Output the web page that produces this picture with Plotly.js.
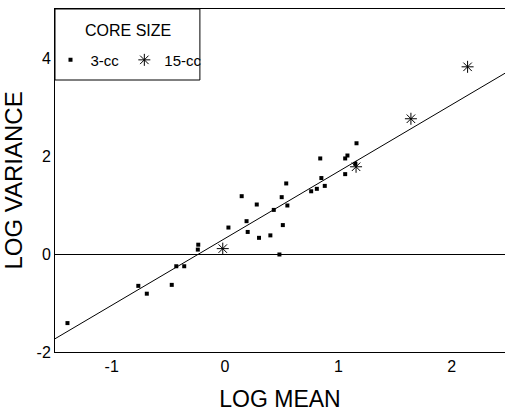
<!DOCTYPE html>
<html>
<head>
<meta charset="utf-8">
<script src="https://cdn.plot.ly/plotly-3.0.1.min.js"></script>
<style>
html,body{margin:0;padding:0;background:#fff;}
#chart{width:505px;height:412px;}
</style>
</head>
<body>
<div id="chart"></div>
<script>
// 3-cc cores: log mean, log variance
const small_x = [-1.39, -0.765, -0.69, -0.47, -0.43, -0.36, -0.24, -0.236, 0.03, 0.147, 0.19, 0.20, 0.28, 0.30, 0.40, 0.43, 0.48, 0.50, 0.51, 0.54, 0.55, 0.76, 0.81, 0.84, 0.85, 0.88, 1.06, 1.08, 1.06, 1.16, 1.15];
const small_y = [-1.41, -0.65, -0.81, -0.63, -0.25, -0.25, 0.09, 0.19, 0.54, 1.18, 0.67, 0.45, 1.01, 0.33, 0.38, 0.90, -0.01, 1.16, 0.59, 1.44, 0.99, 1.28, 1.33, 1.95, 1.55, 1.39, 1.95, 2.01, 1.63, 2.26, 1.84];
// 15-cc cores
const large_x = [-0.02, 1.156, 1.64, 2.14];
const large_y = [0.11, 1.78, 2.76, 3.82];
// regression line end points
const fit_x = [-1.5, 2.5];
const fit_y = [-1.73, 3.73];

const xTicks = [-1, 0, 1, 2];
const yTicks = [-2, 0, 2, 4];
const legendTitle = 'CORE SIZE';

const FONT = 'Liberation Sans, Arial, Helvetica, sans-serif';

const traces = [
  {x: fit_x, y: fit_y, mode: 'lines', line: {color: '#000', width: 1}, showlegend: false, hoverinfo: 'skip'},
  {x: small_x, y: small_y, mode: 'markers', name: '3-cc',
   marker: {symbol: 'square', size: 4, color: '#000'}},
  {x: large_x, y: large_y, mode: 'markers', name: '15-cc',
   marker: {symbol: 'asterisk-open', size: 10, color: '#000', line: {color: '#000', width: 1}}}
];

const layout = {
  width: 505, height: 412,
  margin: {l: 55, r: 0, t: 9, b: 60},
  paper_bgcolor: '#fff', plot_bgcolor: '#fff',
  font: {family: FONT, color: '#000', size: 15},
  showlegend: true,
  legend: {
    x: -0.01, y: 0.851, xanchor: 'left', yanchor: 'middle',
    orientation: 'h',
    borderwidth: 0, bgcolor: 'rgba(0,0,0,0)',
    font: {family: FONT, size: 15, color: '#000'},
    itemwidth: 30,
    tracegroupgap: 0
  },
  annotations: [{
    text: legendTitle, xref: 'paper', yref: 'paper',
    x: 0.162, y: 0.936, xanchor: 'center', yanchor: 'middle',
    showarrow: false, font: {family: FONT, size: 16, color: '#000'}
  }],
  shapes: [{
    type: 'rect', xref: 'paper', yref: 'paper',
    x0: 0, x1: 0.322, y0: 0.793, y1: 1,
    line: {color: '#000', width: 1}, fillcolor: '#fff', layer: 'below'
  }],
  xaxis: {
    range: [-1.5, 2.47],
    tickvals: xTicks, ticktext: xTicks.map(String),
    showgrid: false, zeroline: false,
    showline: true, linecolor: '#000', linewidth: 1, mirror: true,
    ticks: '', tickfont: {family: FONT, size: 16, color: '#000'},
    title: {text: 'LOG MEAN', font: {family: FONT, size: 23, color: '#000'}, standoff: 18}
  },
  yaxis: {
    range: [-2, 5],
    tickvals: yTicks, ticktext: yTicks.map(String),
    showgrid: false,
    zeroline: true, zerolinecolor: '#000', zerolinewidth: 1,
    showline: true, linecolor: '#000', linewidth: 1, mirror: true,
    ticks: '', tickfont: {family: FONT, size: 16, color: '#000'},
    title: {text: 'LOG VARIANCE', font: {family: FONT, size: 24, color: '#000'}, standoff: 10}
  }
};

Plotly.newPlot('chart', traces, layout, {displayModeBar: false, staticPlot: true});
</script>
</body>
</html>
